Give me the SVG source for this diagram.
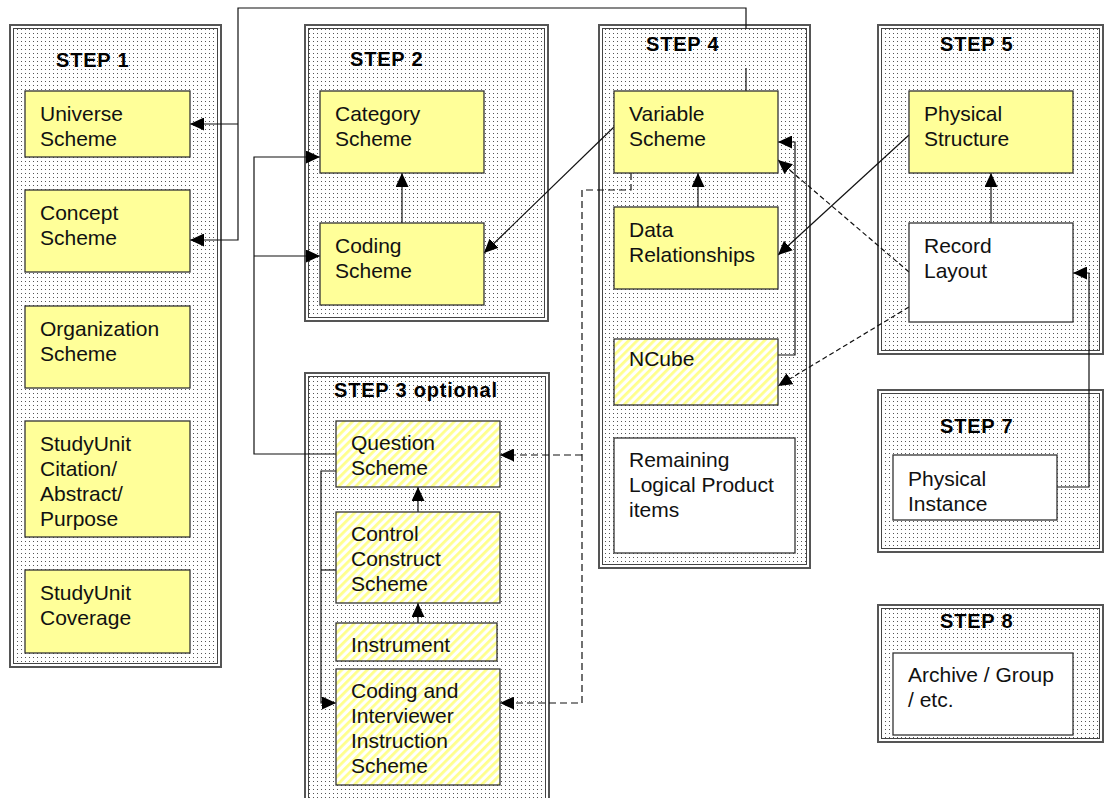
<svg xmlns="http://www.w3.org/2000/svg" width="1105" height="798" viewBox="0 0 1105 798">
<style>
.outer{fill:none;stroke:#555;stroke-width:2}
.inner{fill:url(#dots);stroke:#444;stroke-width:1}
.title{font-family:"Liberation Sans",Arial,sans-serif;font-weight:bold;font-size:20px;letter-spacing:0.8px;fill:#000}
.lbl{font-family:"Liberation Sans",Arial,sans-serif;font-size:21px;fill:#111}
.yel{fill:#ffff99;stroke:#333;stroke-width:1.3}
.hat{fill:url(#hatch);stroke:#333;stroke-width:1.3}
.wht{fill:#fff;stroke:#333;stroke-width:1.3}
.c{fill:none;stroke:#111;stroke-width:1.2}
.d1{stroke-dasharray:7,4}
.d2{stroke-dasharray:5,3}
</style>
<defs>
<pattern id="dots" width="4" height="4" patternUnits="userSpaceOnUse">
<rect width="4" height="4" fill="#fff"/>
<rect x="1" y="1" width="1" height="1" fill="#555"/>
</pattern>
<pattern id="hatch" width="6" height="6" patternUnits="userSpaceOnUse" patternTransform="rotate(45)">
<rect width="6" height="6" fill="#fff"/>
<rect width="2.8" height="6" fill="#ffff8c"/>
</pattern>
<marker id="ah" markerUnits="userSpaceOnUse" markerWidth="15" markerHeight="13" refX="14" refY="6.5" orient="auto">
<path d="M0,0 L14,6.5 L0,13 z" fill="#000"/>
</marker>
</defs>

<g id="step1">
<rect class="outer" x="10" y="25" width="211" height="642"/>
<rect class="inner" x="13.5" y="28.5" width="204" height="635"/>
<text class="title" x="56" y="67">STEP 1</text>
</g>
<g id="step2">
<rect class="outer" x="305" y="25" width="243" height="296"/>
<rect class="inner" x="308.5" y="28.5" width="236" height="289"/>
<text class="title" x="350" y="66">STEP 2</text>
</g>
<g id="step3">
<rect class="outer" x="305" y="373" width="244" height="440"/>
<rect class="inner" x="308.5" y="376.5" width="237" height="433"/>
<text class="title" x="334" y="397">STEP 3 optional</text>
</g>
<g id="step4">
<rect class="outer" x="599" y="25" width="211" height="543"/>
<rect class="inner" x="602.5" y="28.5" width="204" height="536"/>
<text class="title" x="646" y="51">STEP 4</text>
</g>
<g id="step5">
<rect class="outer" x="878" y="25" width="225" height="329"/>
<rect class="inner" x="881.5" y="28.5" width="218" height="322"/>
<text class="title" x="940" y="51">STEP 5</text>
</g>
<g id="step7">
<rect class="outer" x="878" y="390" width="225" height="162"/>
<rect class="inner" x="881.5" y="393.5" width="218" height="155"/>
<text class="title" x="940" y="433">STEP 7</text>
</g>
<g id="step8">
<rect class="outer" x="878" y="605" width="225" height="137"/>
<rect class="inner" x="881.5" y="608.5" width="218" height="130"/>
<text class="title" x="940" y="628">STEP 8</text>
</g>

<g id="connectors">
<path class="c" d="M746,91 V68 M746,29 V8 H238 V240 H190" marker-end="url(#ah)"/>
<path class="c" d="M238,124 H190" marker-end="url(#ah)"/>
<path class="c" d="M336,454 H254 V157 H320" marker-end="url(#ah)"/>
<path class="c" d="M254,256 H320" marker-end="url(#ah)"/>
<path class="c" d="M336,471 H321 V703 H336" marker-end="url(#ah)"/>
<path class="c" d="M336,570 H321"/>
<path class="c d1" d="M631,173 V190 H582 V703 H500" marker-end="url(#ah)"/>
<path class="c d1" d="M582,455 H500" marker-end="url(#ah)"/>
<path class="c" d="M909,135 L778,255" marker-end="url(#ah)"/>
<path class="c" d="M615,126 L484,253" marker-end="url(#ah)"/>
<path class="c" d="M778,355 H795 V142 H778" marker-end="url(#ah)"/>
<path class="c d2" d="M909,272 L778,160" marker-end="url(#ah)"/>
<path class="c d2" d="M909,307 L778,386" marker-end="url(#ah)"/>
<path class="c" d="M1057,487 H1089 V273 H1073" marker-end="url(#ah)"/>
<path class="c" d="M402,223 V173" marker-end="url(#ah)"/>
<path class="c" d="M698,207 V173" marker-end="url(#ah)"/>
<path class="c" d="M991,223 V173" marker-end="url(#ah)"/>
<path class="c" d="M418,512 V487" marker-end="url(#ah)"/>
<path class="c" d="M418,623 V603" marker-end="url(#ah)"/>
</g>

<g id="universe-scheme"><rect class="yel" x="25" y="91" width="165" height="66"/><text class="lbl" x="40" y="121">Universe</text><text class="lbl" x="40" y="146">Scheme</text></g>
<g id="concept-scheme"><rect class="yel" x="25" y="190" width="165" height="82"/><text class="lbl" x="40" y="220">Concept</text><text class="lbl" x="40" y="245">Scheme</text></g>
<g id="organization-scheme"><rect class="yel" x="25" y="306" width="165" height="82"/><text class="lbl" x="40" y="336">Organization</text><text class="lbl" x="40" y="361">Scheme</text></g>
<g id="studyunit-citation"><rect class="yel" x="25" y="421" width="165" height="116"/><text class="lbl" x="40" y="451">StudyUnit</text><text class="lbl" x="40" y="476">Citation/</text><text class="lbl" x="40" y="501">Abstract/</text><text class="lbl" x="40" y="526">Purpose</text></g>
<g id="studyunit-coverage"><rect class="yel" x="25" y="570" width="165" height="83"/><text class="lbl" x="40" y="600">StudyUnit</text><text class="lbl" x="40" y="625">Coverage</text></g>

<g id="category-scheme"><rect class="yel" x="320" y="91" width="164" height="82"/><text class="lbl" x="335" y="121">Category</text><text class="lbl" x="335" y="146">Scheme</text></g>
<g id="coding-scheme"><rect class="yel" x="320" y="223" width="164" height="82"/><text class="lbl" x="335" y="253">Coding</text><text class="lbl" x="335" y="278">Scheme</text></g>

<g id="question-scheme"><rect class="hat" x="336" y="421" width="164" height="66"/><text class="lbl" x="351" y="450">Question</text><text class="lbl" x="351" y="475">Scheme</text></g>
<g id="control-construct-scheme"><rect class="hat" x="336" y="512" width="164" height="91"/><text class="lbl" x="351" y="541">Control</text><text class="lbl" x="351" y="566">Construct</text><text class="lbl" x="351" y="591">Scheme</text></g>
<g id="instrument"><rect class="hat" x="336" y="623" width="161" height="38"/><text class="lbl" x="351" y="652">Instrument</text></g>
<g id="coding-interviewer-instruction-scheme"><rect class="hat" x="336" y="669" width="164" height="116"/><text class="lbl" x="351" y="698">Coding and</text><text class="lbl" x="351" y="723">Interviewer</text><text class="lbl" x="351" y="748">Instruction</text><text class="lbl" x="351" y="773">Scheme</text></g>

<g id="variable-scheme"><rect class="yel" x="614" y="91" width="164" height="82"/><text class="lbl" x="629" y="121">Variable</text><text class="lbl" x="629" y="146">Scheme</text></g>
<g id="data-relationships"><rect class="yel" x="614" y="207" width="164" height="82"/><text class="lbl" x="629" y="237">Data</text><text class="lbl" x="629" y="262">Relationships</text></g>
<g id="ncube"><rect class="hat" x="614" y="339" width="164" height="66"/><text class="lbl" x="629" y="366">NCube</text></g>
<g id="remaining-logical-product-items"><rect class="wht" x="614" y="438" width="181" height="115"/><text class="lbl" x="629" y="467">Remaining</text><text class="lbl" x="629" y="492">Logical Product</text><text class="lbl" x="629" y="517">items</text></g>

<g id="physical-structure"><rect class="yel" x="909" y="91" width="164" height="82"/><text class="lbl" x="924" y="121">Physical</text><text class="lbl" x="924" y="146">Structure</text></g>
<g id="record-layout"><rect class="wht" x="909" y="223" width="164" height="99"/><text class="lbl" x="924" y="253">Record</text><text class="lbl" x="924" y="278">Layout</text></g>

<g id="physical-instance"><rect class="wht" x="893" y="455" width="164" height="65"/><text class="lbl" x="908" y="486">Physical</text><text class="lbl" x="908" y="511">Instance</text></g>

<g id="archive-group"><rect class="wht" x="893" y="653" width="180" height="82"/><text class="lbl" x="908" y="682">Archive / Group</text><text class="lbl" x="908" y="707">/ etc.</text></g>
</svg>
